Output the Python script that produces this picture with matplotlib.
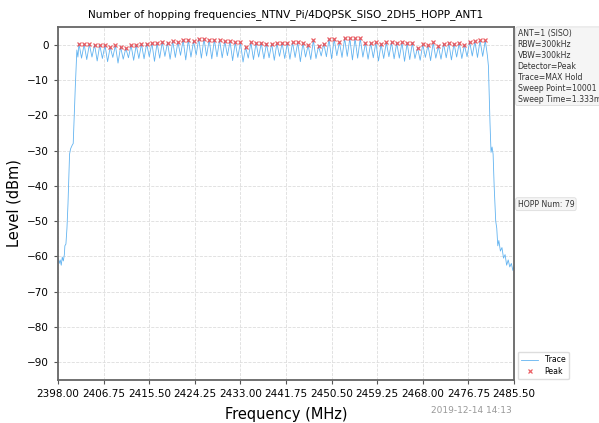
import numpy as np
import matplotlib
matplotlib.use('Agg')
import matplotlib.pyplot as plt

# hopping channels 2402..2480 MHz, peak level per channel (dBm)
first_channel = 2402
peak_levels = [0.3, 0.1, 0.1, 0.0, -0.1, -0.1, -0.7, -0.2, -0.6, -1.0,
               -0.1, -0.1, 0.2, 0.3, 0.5, 0.5, 0.8, 0.6, 1.0, 0.8,
               1.4, 1.4, 1.0, 1.7, 1.7, 1.4, 1.4, 1.4, 1.0, 1.0,
               0.7, 0.7, -0.7, 0.7, 0.5, 0.5, 0.3, 0.3, 0.5, 0.5,
               0.5, 0.65, 0.65, 0.5, -0.1, 1.3, -0.4, 0.3, 1.6, 1.6,
               0.75, 1.8, 1.8, 1.8, 1.8, 0.5, 0.5, 0.65, 0.2, 0.65,
               0.65, 0.5, 0.65, 0.5, 0.55, -0.85, 0.1, -0.1, 0.65, -0.5,
               0.3, 0.5, 0.3, 0.5, -0.1, 0.85, 1.0, 1.2, 1.2]

# trace minimum between neighbouring channels (dBm)
dip_levels = [-3.8, -4.2, -3.5, -4.6, -3.9, -4.8, -3.6, -5.2, -4.1, -3.7,
              -4.4, -3.9, -4.0, -3.4, -4.7, -3.8, -3.3, -4.1, -3.6, -3.0,
              -4.3, -3.5, -2.9, -3.8, -3.2, -4.0, -3.4, -3.7, -3.1, -4.5,
              -3.6, -4.9, -3.8, -4.2, -3.5, -4.0, -3.7, -4.4, -3.3, -3.9,
              -4.1, -3.6, -4.8, -3.5, -4.2, -3.9, -3.2, -3.4, -4.0, -3.1,
              -3.6, -3.3, -4.3, -3.8, -3.5, -4.1, -3.7, -4.6, -3.9, -3.4,
              -4.0, -3.8, -4.7, -4.2, -3.9, -4.4, -3.6, -4.5, -3.8, -4.1,
              -3.7, -4.3, -3.5, -3.9, -3.4, -3.2, -3.6, -3.3]

# band edges of the trace
left_freq = [2398.0, 2398.2, 2398.4, 2398.6, 2398.8, 2399.0, 2399.2, 2399.3,
             2399.5, 2399.7, 2399.9, 2400.2, 2400.4, 2400.7, 2400.9, 2401.3,
             2401.6, 2401.8]
left_level = [-60.5, -62.0, -61.0, -62.5, -60.2, -61.3, -59.5, -57.0,
              -56.5, -52.0, -45.0, -31.0, -29.5, -28.5, -28.0, -12.0,
              -1.5, -3.5]
right_freq = [2480.4, 2480.6, 2480.9, 2481.1, 2481.3, 2481.5, 2481.7, 2482.0,
              2482.2, 2482.4, 2482.6, 2482.9, 2483.2, 2483.5, 2483.8, 2484.1,
              2484.4, 2484.7, 2485.0, 2485.3, 2485.5]
right_level = [-3.0, -6.0, -22.0, -30.5, -29.0, -31.0, -40.0, -50.0,
               -52.0, -57.0, -55.5, -58.5, -57.5, -60.5, -59.5, -62.5,
               -61.0, -63.0, -62.0, -64.0, -63.0]

xticks = [2398.00, 2406.75, 2415.50, 2424.25, 2433.00, 2441.75, 2450.50,
          2459.25, 2468.00, 2476.75, 2485.50]
yticks = [0, -10, -20, -30, -40, -50, -60, -70, -80, -90]

info_lines = ['ANT=1 (SISO)', 'RBW=300kHz', 'VBW=300kHz', 'Detector=Peak',
              'Trace=MAX Hold', 'Sweep Point=10001', 'Sweep Time=1.333ms']

title = 'Number of hopping frequencies_NTNV_Pi/4DQPSK_SISO_2DH5_HOPP_ANT1'

# stitch the trace together: peak, dip, peak, dip ...
chan_freq = first_channel + np.arange(len(peak_levels))
band_freq, band_level = [], []
for i, f in enumerate(chan_freq):
    band_freq.append(f)
    band_level.append(peak_levels[i])
    if i < len(dip_levels):
        band_freq.append(f + 0.5)
        band_level.append(dip_levels[i])
trace_freq = left_freq + band_freq + right_freq
trace_level = left_level + band_level + right_level

fig = plt.figure(figsize=(5.99, 4.23), dpi=100)
ax = fig.add_axes([0.097, 0.102, 0.761, 0.834])

trace_col = '#62b3f0'
peak_col = '#e8444a'
ax.plot(trace_freq, trace_level, color=trace_col, lw=0.6, label='Trace')
ax.plot(chan_freq, peak_levels, 'x', color=peak_col, ms=3, mew=0.9,
        alpha=0.85, label='Peak')

ax.set_xlim(2398.0, 2485.5)
ax.set_ylim(-95, 5)
ax.set_xticks(xticks)
ax.set_xticklabels([f'{t:.2f}' for t in xticks])
ax.set_yticks(yticks)
ax.tick_params(labelsize=7.5, length=3, direction='out', color='#555555')
ax.grid(True, ls='--', color='#dddddd', lw=0.6)
for sp in ax.spines.values():
    sp.set_color('#666666')
    sp.set_linewidth(1.3)

ax.set_title(title, fontsize=7.6, pad=7)
ax.set_xlabel('Frequency (MHz)', fontsize=10.5, labelpad=6)
ax.set_ylabel('Level (dBm)', fontsize=10.5)

box = dict(boxstyle='round,pad=0.25', fc='#f5f5f5', ec='#dddddd', lw=0.6)
ax.text(1.008, 0.995, '\n'.join(info_lines), transform=ax.transAxes,
        fontsize=5.6, va='top', ha='left', color='#333333', linespacing=1.28,
        bbox=box)
ax.text(1.008, 0.498, f'HOPP Num: {len(peak_levels)}', transform=ax.transAxes,
        fontsize=5.6, va='center', ha='left', color='#333333', bbox=box)

ax.legend(loc='lower left', bbox_to_anchor=(1.0, -0.01), fontsize=5.6,
          frameon=True, framealpha=1, edgecolor='#dddddd', handlelength=2.2,
          borderpad=0.45, labelspacing=0.35)

fig.text(0.855, 0.03, '2019-12-14 14:13', fontsize=6.5, color='#999999',
         ha='right', va='center')

fig.savefig('out.png', dpi=100)
